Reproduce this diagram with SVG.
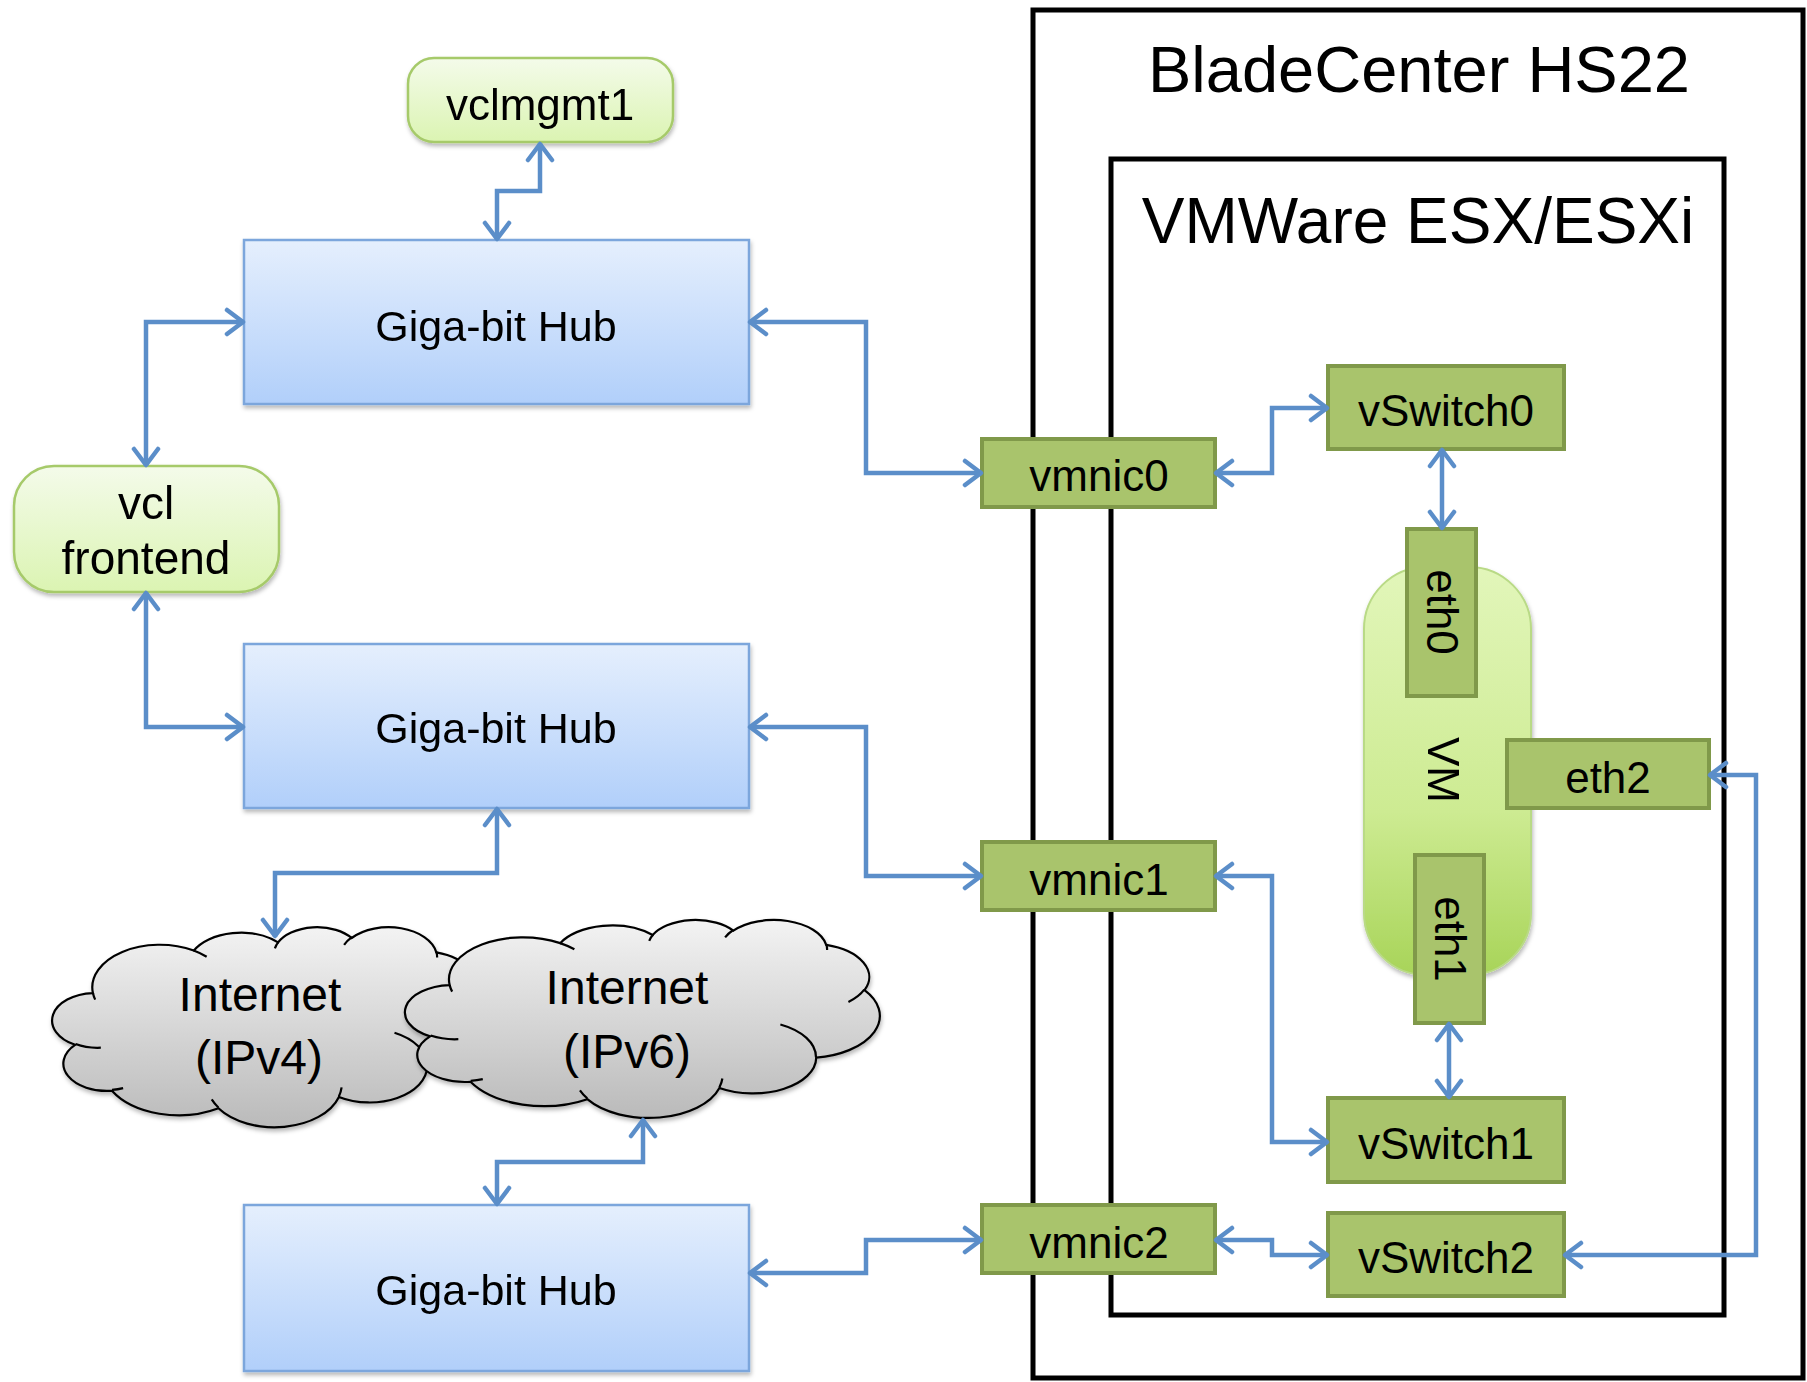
<svg xmlns="http://www.w3.org/2000/svg" xmlns:xlink="http://www.w3.org/1999/xlink" width="1807" height="1382" viewBox="0 0 1807 1382">
<style>
text{font-family:"Liberation Sans",Arial,sans-serif;fill:#000;text-anchor:middle}
.t{font-size:44px}
.ct{font-size:48px}
.hub{fill:url(#gHub);stroke:#7ca6dc;stroke-width:2.5}
.rn{fill:url(#gRn);stroke:#a6ca6a;stroke-width:2.5}
.gb{fill:#a9c46c;stroke:#80994a;stroke-width:4}
.frame{fill:none;stroke:#000;stroke-width:5}
.con{fill:none;stroke:#5b8ec9;stroke-width:4.5;stroke-linejoin:miter;marker-start:url(#ar);marker-end:url(#ar)}
.cloud{fill:url(#gCl);stroke:#000;stroke-width:2.2}
.crease{fill:none;stroke:#000;stroke-width:2.2}
</style>
<defs>
<linearGradient id="gHub" x1="0" y1="0" x2="0" y2="1"><stop offset="0" stop-color="#e5effd"/><stop offset="1" stop-color="#b1cffa"/></linearGradient>
<linearGradient id="gRn" x1="0" y1="0" x2="0" y2="1"><stop offset="0" stop-color="#f4fbea"/><stop offset="1" stop-color="#dbf4b2"/></linearGradient>
<linearGradient id="gVM" x1="0" y1="0" x2="0" y2="1"><stop offset="0" stop-color="#e2f6ba"/><stop offset="0.6" stop-color="#cdeb92"/><stop offset="1" stop-color="#a8d459"/></linearGradient>
<linearGradient id="gCl" x1="0" y1="0" x2="0" y2="1"><stop offset="0" stop-color="#f3f3f3"/><stop offset="1" stop-color="#bababa"/></linearGradient>
<filter id="sh" x="-10%" y="-10%" width="130%" height="140%"><feDropShadow dx="1" dy="3" stdDeviation="2" flood-color="#000" flood-opacity="0.28"/></filter>
<marker id="ar" markerUnits="userSpaceOnUse" markerWidth="24" markerHeight="30" viewBox="0 0 24 30" refX="21" refY="15" orient="auto-start-reverse"><path d="M4,3 L20,15 L4,27" fill="none" stroke="#5b8ec9" stroke-width="4.5" stroke-linecap="round" stroke-linejoin="round"/></marker>
<path id="cloudShape" vector-effect="non-scaling-stroke" d="M3900,14370 A6753,9190 0 0 1 14005,5202 A5333,7267 0 0 1 22457,3435 A4365,5945 0 0 1 29834,2483 A4857,6595 0 0 1 38319,5579 A5333,7273 0 0 1 41819,15463 A6775,9220 0 0 1 37405,30207 A5785,7867 0 0 1 28557,36817 A6752,9215 0 0 1 16482,39270 A7720,10543 0 0 1 5806,35475 A4360,5918 0 0 1 2114,25554 A4345,5945 0 0 1 3900,14370 Z"/>
<path id="cloudCrease" vector-effect="non-scaling-stroke" d="M4693,26177 A4345,5945 0 0 1 2160,25380 M6928,34899 A4360,5918 0 0 1 5820,35281 M16478,39090 A6752,9215 0 0 1 15809,37348 M28827,34751 A6752,9215 0 0 1 28560,36660 M34129,22954 A5785,7867 0 0 1 37380,30090 M41798,15354 A5333,7273 0 0 1 40350,18030 M38324,5426 A4857,6595 0 0 1 38400,6690 M29078,3952 A4857,6595 0 0 1 29821,2339 M22141,4720 A4365,5945 0 0 1 22500,3331 M14000,5192 A6753,9190 0 0 1 15301,6542 M4127,15789 A6753,9190 0 0 1 3900,14370"/>
</defs>
<rect width="1807" height="1382" fill="#fff"/>

<g id="bladecenter">
<rect class="frame" x="1033" y="10" width="770" height="1368"/>
<text x="1419" y="92" style="font-size:65px">BladeCenter HS22</text>
</g>
<g id="vmware">
<rect class="frame" x="1111" y="159" width="613" height="1156"/>
<text x="1418" y="243" style="font-size:64px">VMWare ESX/ESXi</text>
</g>

<g id="vclmgmt1" filter="url(#sh)">
<rect class="rn" x="408" y="58" width="265" height="84" rx="26"/>
<text class="t" x="540" y="120">vclmgmt1</text>
</g>
<g id="vclfrontend" filter="url(#sh)">
<rect class="rn" x="14" y="466" width="265" height="126" rx="40"/>
<text x="146" y="519" style="font-size:46px">vcl</text>
<text x="146" y="574" style="font-size:46px">frontend</text>
</g>
<g id="hub1" filter="url(#sh)">
<rect class="hub" x="244" y="240" width="505" height="164"/>
<text x="496" y="341" style="font-size:43px">Giga-bit Hub</text>
</g>
<g id="hub2" filter="url(#sh)">
<rect class="hub" x="244" y="644" width="505" height="164"/>
<text x="496" y="743" style="font-size:43px">Giga-bit Hub</text>
</g>
<g id="hub3" filter="url(#sh)">
<rect class="hub" x="244" y="1205" width="505" height="166"/>
<text x="496" y="1305" style="font-size:43px">Giga-bit Hub</text>
</g>

<g id="internet4">
<g filter="url(#sh)">
<g transform="translate(54,926.5) scale(0.009977,0.00463)">
<use xlink:href="#cloudShape" class="cloud"/>
<use xlink:href="#cloudCrease" class="crease"/>
</g>
</g>
<text class="ct" x="260" y="1011">Internet</text>
<text class="ct" x="259" y="1074">(IPv4)</text>
</g>
<g id="internet6">
<g filter="url(#sh)">
<g transform="translate(407,919.3) scale(0.01094,0.004581)">
<use xlink:href="#cloudShape" class="cloud"/>
<use xlink:href="#cloudCrease" class="crease"/>
</g>
</g>
<text class="ct" x="627" y="1004">Internet</text>
<text class="ct" x="627" y="1068">(IPv6)</text>
</g>

<g id="vm" filter="url(#sh)">
<rect x="1364" y="567" width="167" height="408" rx="62" fill="url(#gVM)" stroke="#b9da86" stroke-width="2"/>
<text class="t" transform="translate(1444,770) rotate(90)" x="0" y="16">VM</text>
</g>
<g id="eth0">
<rect class="gb" x="1407" y="529" width="69" height="167"/>
<text class="t" transform="translate(1442,612) rotate(90)" x="0" y="15">eth0</text>
</g>
<g id="eth1">
<rect class="gb" x="1415" y="855" width="69" height="168"/>
<text class="t" transform="translate(1450,939) rotate(90)" x="0" y="15">eth1</text>
</g>
<g id="eth2">
<rect class="gb" x="1507" y="740" width="202" height="68"/>
<text class="t" x="1608" y="793">eth2</text>
</g>

<g id="vmnic0"><rect class="gb" x="982" y="439" width="233" height="68"/><text class="t" x="1099" y="491">vmnic0</text></g>
<g id="vmnic1"><rect class="gb" x="982" y="842" width="233" height="68"/><text class="t" x="1099" y="895">vmnic1</text></g>
<g id="vmnic2"><rect class="gb" x="982" y="1205" width="233" height="68"/><text class="t" x="1099" y="1258">vmnic2</text></g>
<g id="vswitch0"><rect class="gb" x="1328" y="366" width="236" height="83"/><text class="t" x="1446" y="426">vSwitch0</text></g>
<g id="vswitch1"><rect class="gb" x="1328" y="1098" width="236" height="84"/><text class="t" x="1446" y="1159">vSwitch1</text></g>
<g id="vswitch2"><rect class="gb" x="1328" y="1213" width="236" height="83"/><text class="t" x="1446" y="1273">vSwitch2</text></g>

<g id="connectors">
<path class="con" d="M497,240 V191 H540 V143"/>
<path class="con" d="M146,466 V322 H244"/>
<path class="con" d="M146,592 V727 H244"/>
<path class="con" d="M749,322 H866 V473 H982"/>
<path class="con" d="M749,727 H866 V876 H982"/>
<path class="con" d="M497,808 V873 H275 V937"/>
<path class="con" d="M643,1119 V1162 H497 V1205"/>
<path class="con" d="M749,1273 H866 V1240 H982"/>
<path class="con" d="M1215,473 H1272 V408 H1328"/>
<path class="con" d="M1442,449 V529"/>
<path class="con" d="M1215,876 H1272 V1142 H1328"/>
<path class="con" d="M1449,1023 V1098"/>
<path class="con" d="M1215,1240 H1272 V1255 H1328"/>
<path class="con" d="M1709,775 H1756 V1255 H1564"/>
</g>
</svg>
